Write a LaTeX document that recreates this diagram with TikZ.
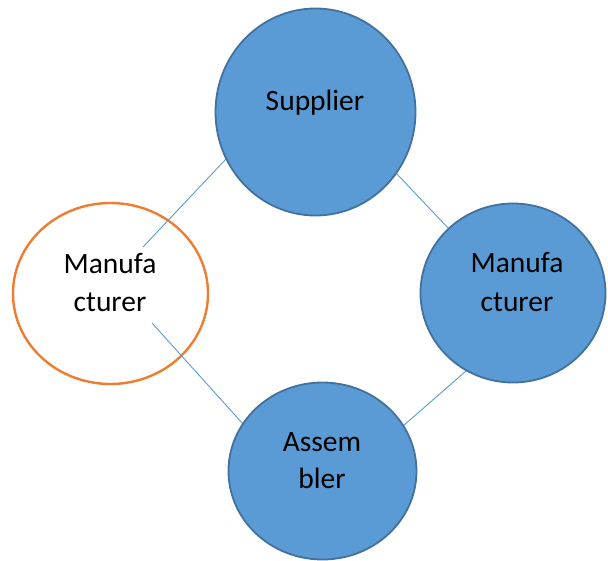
\documentclass[tikz,border=0pt]{standalone}
\usepackage{fontspec}
\setmainfont{Carlito}
\usetikzlibrary{shapes.geometric}
\definecolor{bluefill}{HTML}{5B9BD5}
\definecolor{blueedge}{HTML}{41719C}
\definecolor{orangeedge}{HTML}{ED7D31}
\definecolor{linkblue}{HTML}{5B9BD5}
\tikzset{
  bluecirc/.style={ellipse, inner sep=0pt, draw=blueedge, line width=1.8pt, fill=bluefill},
  whitecirc/.style={ellipse, inner sep=0pt, draw=orangeedge, line width=2.4pt, fill=white},
  link/.style={draw=linkblue, line width=0.9pt},
  lbl/.style={anchor=base, inner sep=0pt, font=\fontsize{29.5}{35}\selectfont, text=black}
}
\begin{document}
\begin{tikzpicture}[x=1pt,y=-1pt]
\useasboundingbox (0,0) rectangle (608,560);
% white (orange) circle
\node[whitecirc, minimum width=195pt, minimum height=181pt] (lman) at (110.5,293.5) {};
% connector end points
\coordinate (a1) at (143,247);
\coordinate (a2) at (226,159);
\coordinate (b1) at (152,323);
\coordinate (b2) at (243,424);
\coordinate (c1) at (396,173);
\coordinate (c2) at (449,229);
\coordinate (d1) at (466,371);
\coordinate (d2) at (403,426);
\draw[link] (a1) -- (a2);
\draw[link] (b1) -- (b2);
\draw[link] (c1) -- (c2);
\draw[link] (d1) -- (d2);
% blue circles
\node[bluecirc, minimum width=200pt, minimum height=207pt] (sup) at (315.5,112) {};
\node[bluecirc, minimum width=185pt, minimum height=179pt] (rman) at (513,293) {};
\node[bluecirc, minimum width=188pt, minimum height=177pt] (asm) at (322.5,471) {};
% labels
\node[lbl] (tsup) at (315,110) {Supplier};
\node[lbl] (tlm1) at (110,273) {Manufa};
\node[lbl] (tlm2) at (110,311) {cturer};
\node[lbl] (trm1) at (517,272) {Manufa};
\node[lbl] (trm2) at (517,311) {cturer};
\node[lbl] (tas1) at (322,451) {Assem};
\node[lbl] (tas2) at (322,488) {bler};
\end{tikzpicture}
\end{document}
